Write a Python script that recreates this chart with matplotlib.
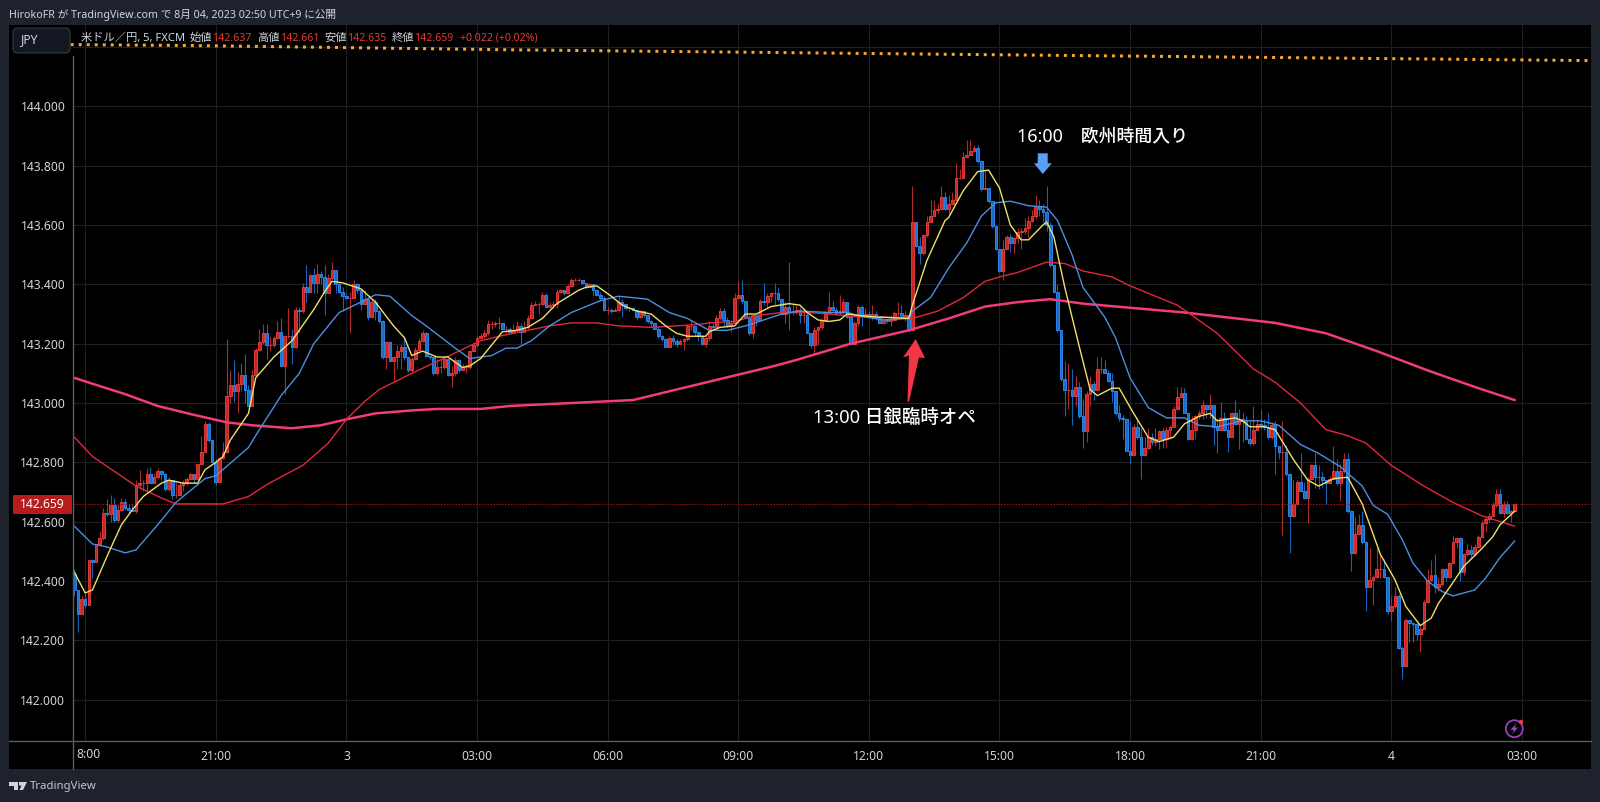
import numpy as np
import matplotlib
matplotlib.use("Agg")
import matplotlib.pyplot as plt
from matplotlib.lines import Line2D
from matplotlib.patches import Polygon, Rectangle, FancyBboxPatch, Ellipse

plt.rcParams['font.family'] = ['Noto Sans', 'Noto Sans CJK JP', 'DejaVu Sans']

# === DATA ===
first_open = 142.425
closes = [
    142.37,142.29,142.34,142.32,142.47,142.465,142.525,142.545,142.63,142.625,
    142.655,142.605,142.64,142.665,142.645,142.64,142.635,142.725,142.73,142.73,
    142.76,142.73,142.75,142.77,142.76,142.71,142.74,142.69,142.69,142.725,
    142.73,142.745,142.76,142.745,142.795,142.835,142.93,142.875,142.80,142.735,
    142.815,142.835,143.025,143.06,143.04,143.065,143.095,143.045,142.99,143.095,
    143.18,143.205,143.235,143.195,143.195,143.22,143.24,143.125,143.225,143.225,
    143.19,143.315,143.31,143.39,143.375,143.43,143.405,143.435,143.425,143.37,
    143.42,143.45,143.40,143.375,143.36,143.355,143.355,143.40,143.38,143.335,
    143.35,143.29,143.34,143.31,143.275,143.155,143.205,143.14,143.155,143.175,
    143.19,143.155,143.11,143.15,143.18,143.21,143.235,143.16,143.155,143.10,
    143.12,143.12,143.15,143.095,143.10,143.145,143.11,143.12,143.12,143.175,
    143.195,143.22,143.225,143.235,143.265,143.265,143.27,143.27,143.25,143.25,
    143.24,143.245,143.26,143.24,143.255,143.285,143.33,143.335,143.335,143.365,
    143.325,143.33,143.335,143.375,143.38,143.37,143.395,143.415,143.415,143.415,
    143.405,143.39,143.40,143.38,143.365,143.355,143.315,143.315,143.31,143.315,
    143.34,143.335,143.32,143.32,143.315,143.29,143.31,143.295,143.275,143.27,
    143.25,143.225,143.215,143.19,143.22,143.21,143.20,143.21,143.215,143.26,
    143.26,143.24,143.225,143.20,143.22,143.26,143.255,143.285,143.31,143.28,
    143.26,143.27,143.355,143.365,143.345,143.285,143.235,143.295,143.28,143.345,
    143.34,143.36,143.37,143.37,143.35,143.30,143.325,143.31,143.31,143.315,
    143.295,143.295,143.235,143.195,143.245,143.255,143.275,143.305,143.325,143.315,
    143.305,143.31,143.34,143.29,143.20,143.27,143.325,143.295,143.30,143.29,
    143.30,143.29,143.27,143.28,143.275,143.28,143.305,143.305,143.29,143.295,
    143.245,143.61,143.53,143.505,143.565,143.61,143.63,143.65,143.655,143.695,
    143.655,143.67,143.685,143.76,143.76,143.83,143.835,143.85,143.86,143.815,
    143.72,143.725,143.68,143.595,143.52,143.445,143.52,143.56,143.54,143.555,
    143.575,143.58,143.59,143.615,143.63,143.665,143.655,143.645,143.60,143.465,
    143.375,143.245,143.08,143.045,143.045,143.025,143.055,142.955,142.905,143.03,
    143.065,143.045,143.115,143.115,143.10,143.075,143.04,142.965,142.95,142.945,
    142.84,142.825,142.92,142.885,142.825,142.85,142.885,142.87,142.88,142.905,
    142.88,142.91,142.92,142.98,143.02,143.035,142.965,142.88,142.91,142.955,
    142.965,142.995,142.98,142.995,142.92,142.91,142.95,142.91,142.885,142.965,
    142.93,142.945,142.94,142.88,142.865,142.91,142.93,142.925,142.92,142.885,
    142.925,142.855,142.835,142.835,142.76,142.62,142.66,142.735,142.705,142.68,
    142.745,142.79,142.75,142.75,142.74,142.73,142.745,142.77,142.73,142.77,
    142.81,142.635,142.495,142.56,142.59,142.53,142.38,142.405,142.415,142.44,
    142.44,142.415,142.30,142.315,142.35,142.175,142.115,142.27,142.26,142.255,
    142.22,142.24,142.33,142.405,142.42,142.38,142.39,142.44,142.415,142.46,
    142.53,142.545,142.43,142.49,142.505,142.49,142.515,142.55,142.595,142.61,
    142.62,142.655,142.695,142.63,142.66,142.63,142.635,142.659,
]
highs = [
    142.44,142.37,142.35,142.36,142.47,142.475,142.525,142.57,142.645,142.675,
    142.69,142.68,142.655,142.68,142.675,142.66,142.66,142.74,142.775,142.74,
    142.78,142.785,142.765,142.78,142.775,142.765,142.75,142.74,142.73,142.735,
    142.74,142.75,142.765,142.76,142.795,142.89,142.94,142.935,142.875,142.81,
    142.815,142.87,143.215,143.11,143.145,143.105,143.135,143.165,143.06,143.11,
    143.185,143.25,143.265,143.265,143.225,143.225,143.275,143.285,143.23,143.32,
    143.25,143.325,143.325,143.405,143.465,143.435,143.455,143.47,143.445,143.465,
    143.435,143.475,143.45,143.41,143.39,143.37,143.375,143.415,143.405,143.38,
    143.38,143.355,143.35,143.35,143.315,143.28,143.21,143.21,143.16,143.195,
    143.20,143.225,143.155,143.155,143.19,143.22,143.245,143.24,143.16,143.16,
    143.15,143.15,143.16,143.15,143.125,143.155,143.15,143.13,143.13,143.18,
    143.205,143.23,143.235,143.245,143.28,143.275,143.275,143.29,143.27,143.26,
    143.255,143.265,143.275,143.27,143.275,143.295,143.34,143.345,143.34,143.375,
    143.37,143.34,143.345,143.385,143.385,143.38,143.40,143.42,143.42,143.42,
    143.415,143.405,143.405,143.40,143.38,143.375,143.36,143.325,143.32,143.32,
    143.36,143.35,143.335,143.325,143.325,143.315,143.315,143.31,143.295,143.28,
    143.265,143.26,143.23,143.22,143.225,143.23,143.215,143.215,143.22,143.265,
    143.28,143.26,143.24,143.23,143.225,143.275,143.27,143.295,143.32,143.32,
    143.29,143.28,143.37,143.41,143.415,143.345,143.295,143.30,143.295,143.35,
    143.405,143.37,143.375,143.405,143.39,143.35,143.34,143.475,143.335,143.33,
    143.325,143.32,143.31,143.235,143.255,143.26,143.285,143.31,143.375,143.345,
    143.325,143.365,143.35,143.34,143.29,143.275,143.33,143.33,143.32,143.31,
    143.33,143.31,143.285,143.29,143.28,143.295,143.31,143.34,143.33,143.31,
    143.29,143.73,143.61,143.56,143.57,143.63,143.685,143.685,143.67,143.73,
    143.71,143.70,143.71,143.81,143.79,143.845,143.885,143.885,143.87,143.87,
    143.815,143.785,143.725,143.68,143.595,143.52,143.55,143.565,143.57,143.56,
    143.59,143.59,143.625,143.63,143.65,143.70,143.685,143.67,143.73,143.61,
    143.465,143.40,143.245,143.14,143.135,143.115,143.09,143.07,143.015,143.04,
    143.09,143.075,143.155,143.155,143.145,143.11,143.10,143.045,142.995,142.96,
    142.95,142.94,142.93,142.95,142.915,142.885,142.915,142.90,142.915,142.91,
    142.915,142.92,142.925,142.99,143.055,143.055,143.05,142.97,142.955,142.96,
    142.975,143.01,142.995,143.03,142.995,142.95,143.005,142.97,142.95,142.97,
    143.01,142.98,142.965,142.955,142.94,142.99,142.945,142.975,142.945,142.965,
    142.935,142.94,142.84,142.94,142.86,142.765,142.74,142.74,142.83,142.735,
    142.75,142.795,142.83,142.79,142.77,142.74,142.755,142.855,142.81,142.795,
    142.83,142.83,142.64,142.615,142.625,142.635,142.535,142.51,142.42,142.51,
    142.49,142.475,142.415,142.35,142.38,142.355,142.18,142.275,142.27,142.26,
    142.26,142.25,142.335,142.44,142.47,142.49,142.415,142.445,142.445,142.465,
    142.555,142.55,142.55,142.495,142.525,142.52,142.525,142.555,142.605,142.62,
    142.63,142.665,142.71,142.71,142.67,142.67,142.64,142.661,
]
lows = [
    142.35,142.23,142.29,142.31,142.32,142.41,142.465,142.52,142.54,142.62,
    142.60,142.60,142.60,142.635,142.64,142.63,142.635,142.63,142.71,142.705,
    142.705,142.73,142.73,142.745,142.74,142.705,142.705,142.675,142.68,142.69,
    142.705,142.725,142.74,142.73,142.74,142.795,142.835,142.87,142.80,142.725,
    142.735,142.81,142.83,143.00,143.005,142.965,143.04,143.00,142.99,142.99,
    143.09,143.175,143.20,143.15,143.175,143.19,143.215,143.125,143.03,143.22,
    143.13,143.185,143.235,143.305,143.34,143.37,143.37,143.37,143.40,143.295,
    143.37,143.415,143.37,143.37,143.31,143.355,143.235,143.355,143.37,143.315,
    143.33,143.28,143.285,143.28,143.27,143.15,143.115,143.14,143.075,143.115,
    143.115,143.145,143.105,143.105,143.145,143.18,143.205,143.155,143.15,143.095,
    143.095,143.10,143.115,143.09,143.055,143.09,143.105,143.11,143.10,143.115,
    143.175,143.19,143.215,143.215,143.23,143.25,143.255,143.25,143.245,143.235,
    143.235,143.235,143.24,143.20,143.24,143.25,143.285,143.33,143.30,143.33,
    143.32,143.32,143.32,143.32,143.37,143.365,143.37,143.39,143.41,143.41,
    143.40,143.385,143.39,143.36,143.36,143.345,143.31,143.30,143.305,143.31,
    143.31,143.29,143.315,143.31,143.31,143.28,143.285,143.29,143.27,143.255,
    143.25,143.22,143.21,143.19,143.19,143.195,143.19,143.20,143.18,143.21,
    143.245,143.225,143.21,143.195,143.19,143.21,143.25,143.25,143.28,143.26,
    143.255,143.24,143.27,143.355,143.335,143.285,143.23,143.22,143.26,143.275,
    143.33,143.325,143.34,143.33,143.345,143.30,143.27,143.245,143.295,143.30,
    143.27,143.27,143.235,143.185,143.165,143.195,143.25,143.275,143.30,143.31,
    143.295,143.295,143.30,143.285,143.195,143.20,143.26,143.26,143.29,143.285,
    143.28,143.28,143.27,143.27,143.27,143.26,143.275,143.29,143.285,143.275,
    143.24,143.245,143.525,143.47,143.50,143.56,143.61,143.63,143.64,143.655,
    143.65,143.635,143.67,143.685,143.755,143.76,143.825,143.835,143.845,143.81,
    143.715,143.72,143.675,143.59,143.515,143.44,143.415,143.52,143.51,143.505,
    143.54,143.52,143.57,143.56,143.61,143.62,143.63,143.61,143.58,143.46,
    143.37,143.24,143.075,142.955,142.98,142.925,142.99,142.95,142.85,142.87,
    142.99,143.01,143.045,143.10,143.10,143.07,143.005,142.96,142.94,142.88,
    142.84,142.795,142.825,142.88,142.745,142.82,142.845,142.86,142.855,142.845,
    142.85,142.85,142.88,142.92,142.975,143.02,142.965,142.875,142.875,142.88,
    142.945,142.945,142.95,142.95,142.86,142.83,142.91,142.905,142.835,142.885,
    142.925,142.845,142.87,142.875,142.86,142.86,142.91,142.915,142.91,142.88,
    142.88,142.76,142.81,142.555,142.755,142.495,142.615,142.66,142.70,142.675,
    142.595,142.74,142.715,142.71,142.715,142.66,142.73,142.745,142.725,142.67,
    142.765,142.63,142.435,142.49,142.555,142.525,142.30,142.38,142.32,142.41,
    142.41,142.41,142.29,142.265,142.31,142.17,142.07,142.115,142.195,142.195,
    142.20,142.16,142.24,142.325,142.40,142.36,142.365,142.385,142.40,142.41,
    142.46,142.51,142.40,142.42,142.485,142.475,142.485,142.51,142.55,142.565,
    142.60,142.62,142.65,142.625,142.615,142.625,142.60,142.635,
]

yellow_idx = [0,3,5,8,10,13,16,19,24,26,30,34,36,39,41,43,48,50,55,60,66,69,71,74,79,83,88,91,93,96,
              100,103,107,109,112,115,118,122,125,129,133,139,141,144,148,151,155,159,163,166,169,174,175,178,182,185,188,192,197,200,
              202,205,208,211,213,216,221,230,231,235,240,241,245,249,252,255,258,261,263,267,268,270,273,277,280,282,286,288,292,296,
              299,303,306,310,313,315,320,322,324,328,331,333,336,340,343,347,351,355,360,364,367,371,374,376,380,383,388,391,393,397]
yellow_ma = [142.43,142.36,142.37,142.455,142.51,142.59,142.64,142.685,142.73,142.74,142.73,142.73,142.775,142.80,142.82,142.875,142.965,143.085,143.155,143.21,
             143.315,143.375,143.41,143.405,143.385,143.34,143.26,143.22,143.16,143.175,
             143.155,143.155,143.12,143.125,143.15,143.195,143.24,143.245,143.255,143.285,143.335,143.38,143.39,143.395,143.36,143.33,143.31,143.30,143.26,143.235,
             143.225,143.225,143.24,143.255,143.26,143.30,143.30,143.325,143.335,143.33,
             143.305,143.28,143.275,143.28,143.30,143.295,143.29,143.285,143.33,143.48,143.615,143.625,143.715,143.78,143.785,143.725,143.60,143.55,143.55,143.60,
             143.61,143.56,143.39,143.19,143.045,143.025,143.05,143.05,142.965,142.885,
             142.87,142.885,142.93,142.955,142.965,142.94,142.95,142.94,142.92,142.92,142.91,142.87,142.81,142.74,142.72,142.745,142.75,142.66,142.49,142.405,
             142.315,142.25,142.275,142.325,142.395,142.45,142.51,142.55,142.59,142.635]

blue_idx = [0,5,9,14,17,23,28,32,36,39,48,51,57,62,66,70,73,79,83,87,93,97,105,109,115,119,122,126,131,137,
            145,150,158,164,169,175,180,185,190,195,200,208,213,218,223,230,231,236,241,246,250,254,258,263,268,271,275,278,284,287,
            291,296,301,306,310,315,322,327,332,338,343,349,355,358,362,366,369,373,377,380,386,389,393,397]
blue_ma = [142.585,142.525,142.515,142.495,142.505,142.59,142.665,142.705,142.745,142.755,142.85,142.91,143.025,143.10,143.20,143.26,143.305,143.34,143.365,143.36,
           143.295,143.26,143.185,143.15,143.16,143.185,143.185,143.21,143.26,143.305,
           143.345,143.36,143.35,143.305,143.285,143.245,143.245,143.26,143.28,143.30,143.31,143.305,143.305,143.29,143.28,143.285,143.31,143.355,143.455,143.54,
           143.63,143.675,143.68,143.665,143.66,143.615,143.50,143.39,143.29,143.22,
           143.085,142.985,142.95,142.95,142.925,142.92,142.94,142.94,142.925,142.86,142.83,142.785,142.72,142.655,142.625,142.54,142.46,142.40,142.365,142.35,
           142.37,142.41,142.48,142.535]

red_idx = [0,5,11,17,24,28,36,41,48,53,63,70,75,80,84,93,100,106,112,119,125,131,137,144,150,159,166,172,175,182,
           188,195,202,208,216,223,231,238,245,251,255,260,268,273,278,286,291,304,307,315,325,331,338,345,351,356,363,372,380,388,397]
red_ma = [142.885,142.82,142.77,142.72,142.68,142.66,142.66,142.66,142.685,142.725,142.79,142.865,142.945,143.005,143.045,143.10,143.14,143.175,143.21,143.23,
          143.245,143.26,143.27,143.27,143.26,143.255,143.26,143.265,143.27,143.275,
          143.295,143.305,143.305,143.30,143.29,143.29,143.285,143.31,143.355,143.41,143.425,143.44,143.475,143.47,143.445,143.425,143.395,143.33,143.305,143.235,
          143.115,143.07,143.00,142.91,142.89,142.865,142.79,142.72,142.665,142.62,142.585]

pink_idx = [0,5,14,23,33,42,49,60,68,75,83,93,100,112,120,154,176,193,199,214,230,241,251,260,269,278,292,306,324,331,345,359,373,387,397]
pink_ma = [143.085,143.065,143.03,142.99,142.96,142.935,142.925,142.915,142.925,142.945,142.965,142.975,142.98,142.98,142.99,143.01,143.075,143.125,143.145,143.20,
           143.245,143.285,143.325,143.34,143.35,143.335,143.32,143.305,143.28,143.27,143.235,143.175,143.11,143.05,143.01]

orange_idx = [-1,31,123,227,418]
orange_ma = [144.208,144.205,144.19,144.177,144.154]

last_price = 142.659
price_ticks = [142.0,142.2,142.4,142.6,142.8,143.0,143.2,143.4,143.6,143.8,144.0]
time_ticks = [3,39,75,111,147,183,219,255,291,327,363,399]
time_labels = ["","21:00","3","03:00","06:00","09:00","12:00","15:00","18:00","21:00","4","03:00"]


def px(x, y):
    # reference pixels to figure fraction
    return x / 1600, 1 - y / 802


def text(x, y, s, **kw):
    kw.setdefault("va", "center")
    kw.setdefault("color", "#d1d4dc")
    fig.text(*px(x, y), s, **kw)


def shape(points, color):
    fig.add_artist(Polygon([px(*p) for p in points], closed=True, facecolor=color,
                           edgecolor="none", transform=fig.transFigure))


fig = plt.figure(figsize=(16, 8.02), dpi=100, facecolor="#1e222d")
fig.add_artist(Rectangle(px(9, 769), 1582 / 1600, 744 / 802, facecolor="black", edgecolor="none",
                         transform=fig.transFigure, zorder=-1))

ax = fig.add_axes([73 / 1600, 1 - 740.7 / 802, 1518 / 1600, 715.7 / 802], facecolor="black")
ax.set_xlim(-0.36, 418.05)
ax.set_ylim(141.862, 144.274)
for s in ax.spines.values():
    s.set_visible(False)

ax.set_yticks(price_ticks + [144.2])
ax.set_yticklabels(["%.3f" % p for p in price_ticks] + [""], fontsize=8.7, color="#d1d4dc")
ax.set_xticks(time_ticks)
ax.set_xticklabels(time_labels, fontsize=8.7, color="#d1d4dc")
ax.tick_params(axis="y", length=0, pad=5.5)
ax.tick_params(axis="x", length=0, pad=6.5)
ax.grid(True, color="#1f2023", linewidth=0.8)
ax.set_axisbelow(True)
for lbl in ax.get_xticklabels():
    if lbl.get_text() in ("3", "4"):
        lbl.set_fontweight("bold")

# candles, red is up on this chart
closes = np.array(closes)
highs = np.array(highs)
lows = np.array(lows)
opens = np.r_[first_open, closes[:-1]]
idx = np.arange(len(closes))
up = closes >= opens
ax.vlines(idx[up], lows[up], highs[up], color="#b02a2a", linewidth=0.8, zorder=2)
ax.vlines(idx[~up], lows[~up], highs[~up], color="#1763b8", linewidth=0.8, zorder=2)
ax.bar(idx[up], (closes - opens)[up], bottom=opens[up], width=0.72, facecolor="#c62828",
       edgecolor="#e03a3a", linewidth=0.7, zorder=3)
ax.bar(idx[~up], (closes - opens)[~up], bottom=opens[~up], width=0.72, facecolor="#1a6cc8",
       edgecolor="#2a84e6", linewidth=0.7, zorder=3)

ax.plot(pink_idx, pink_ma, color="#f03c78", linewidth=1.8, zorder=4, solid_joinstyle="round")
ax.plot(red_idx, red_ma, color="#e0283c", linewidth=1.0, zorder=5, solid_joinstyle="round")
ax.plot(blue_idx, blue_ma, color="#4a8fe0", linewidth=1.0, zorder=5, solid_joinstyle="round")
ax.plot(yellow_idx, yellow_ma, color="#efe06a", linewidth=1.0, zorder=6, solid_joinstyle="round")
ax.plot(orange_idx, orange_ma, color="#f5a731", linewidth=2.16, linestyle=(0, (1, 1.67)),
        zorder=6, clip_on=False)
ax.axhline(last_price, color="#a31515", linewidth=0.7, linestyle=(0, (1.5, 1.5)), zorder=4)

# pane separators
fig.add_artist(Line2D([73 / 1600, 73 / 1600], [px(0, 56)[1], px(0, 769)[1]], color="#5a5c62", linewidth=1))
fig.add_artist(Line2D([9 / 1600, 1591 / 1600], [px(0, 740.7)[1]] * 2, color="#5a5c62", linewidth=1))

# last price tag
fig.add_artist(FancyBboxPatch(px(13, 514), 59 / 1600, 19 / 802, boxstyle="round,pad=0,rounding_size=0.001",
                              facecolor="#b71c1c", edgecolor="none", transform=fig.transFigure))
text(42.5, 504.5, "142.659", color="white", ha="center", fontsize=8.7, fontweight="bold")

# cut off first time label
text(76, 755, "8:00", ha="left", fontsize=8.7)

# header and legend
text(9, 15, "HirokoFR が TradingView.com で 8月 04, 2023 02:50 UTC+9 に公開", fontsize=7.7)
fig.add_artist(FancyBboxPatch(px(13, 53), 57 / 1600, 25 / 802, boxstyle="round,pad=0,rounding_size=0.003",
                              facecolor="#131722", edgecolor="#363a45", linewidth=0.8,
                              transform=fig.transFigure, mutation_aspect=2))
text(21, 40, "JPY", fontsize=8.7)
for x, s, col, fs in [(81, "米ドル／円, 5, FXCM", "#d1d4dc", 8.1), (190, "始値", "#d1d4dc", 8.1), (212.5, "142.637", "#e53935", 7.6),
                      (257, "高値", "#d1d4dc", 8.1), (279.6, "142.661", "#e53935", 7.6), (324, "安値", "#d1d4dc", 8.1),
                      (347, "142.635", "#e53935", 7.6), (392, "終値", "#d1d4dc", 8.1), (414, "142.659", "#e53935", 7.6),
                      (460, "+0.022 (+0.02%)", "#e53935", 7.6)]:
    text(x, 38.5, s, color=col, fontsize=fs)

# annotations
text(1017, 136.5, "16:00　欧州時間入り", color="white", fontsize=12.9, fontweight="medium")
text(813, 418, "13:00 日銀臨時オペ", color="white", fontsize=13.3, fontweight="medium")
shape([(1037.7, 153.3), (1047.7, 153.3), (1047.7, 163.3), (1052, 163.3), (1042.7, 174), (1034, 163.3), (1037.7, 163.3)], "#5b9ef5")
shape([(915.7, 339), (925, 358), (919, 357.5), (909, 401.7), (907.5, 401.7), (909, 355.5), (903, 357.5)], "#f23645")

# bolt badge
fig.add_artist(Ellipse(px(1514.3, 728.7), 17 / 1600, 17 / 802, facecolor="none", edgecolor="#9c3fc0", linewidth=1.3,
                       transform=fig.transFigure))
shape([(1516.5, 723), (1510.5, 730), (1513.8, 730), (1512, 734.5), (1518, 727.5), (1514.8, 727.5)], "#9c3fc0")
fig.add_artist(Ellipse(px(1521, 722), 4.5 / 1600, 4.5 / 802, facecolor="#f23645", edgecolor="none",
                       transform=fig.transFigure))

# footer logo
shape([(9, 782), (18, 782), (18, 790), (14, 790), (14, 785.5), (9, 785.5)], "#d1d4dc")
shape([(19, 782), (27, 782), (23, 790), (19.5, 790), (21.5, 785.5), (19, 785.5)], "#d1d4dc")
text(30, 786, "TradingView", fontsize=8.2, color="#c4c7cf")

fig.savefig("out.png", dpi=100)
